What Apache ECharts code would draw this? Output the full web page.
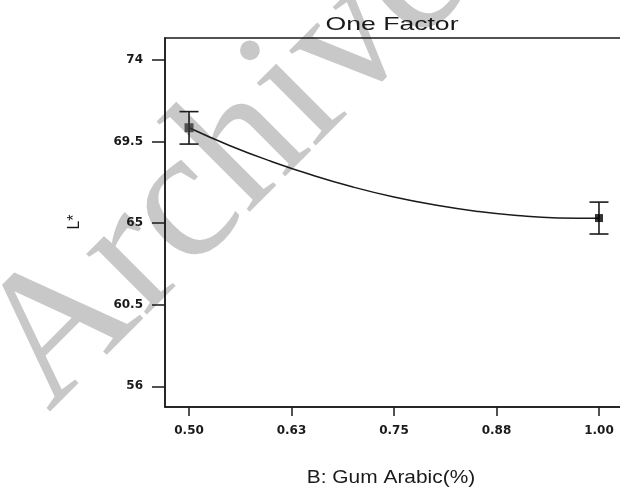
<!DOCTYPE html>
<html>
<head>
<meta charset="utf-8">
<script src="https://cdn.jsdelivr.net/npm/echarts@6/dist/echarts.min.js"></script>
<style>
html,body{margin:0;padding:0;background:#fff;}
#chart{width:620px;height:488px;}
</style>
</head>
<body>
<div id="chart"></div>
<script>
// ---- data ----
const gumArabic = [0.5, 1.0];
const lightness = [70.26, 65.28];
const errLow = [69.36, 64.40];
const errHigh = [71.15, 66.16];
const curveX = [0.50, 0.55, 0.60, 0.65, 0.70, 0.75, 0.80, 0.85, 0.90, 0.95, 1.00];
const curveY = [70.26, 69.27, 68.41, 67.65, 66.99, 66.44, 66.00, 65.66, 65.42, 65.29, 65.27];
const xTickValues = [0.5, 0.625, 0.75, 0.875, 1.0];
const xTickLabels = ['0.50', '0.63', '0.75', '0.88', '1.00'];
const yTickValues = [56, 60.5, 65, 69.5, 74];
const yTickLabels = ['56', '60.5', '65', '69.5', '74'];
const titleText = 'One Factor';
const xName = 'B: Gum Arabic(%)';
const yName = 'L*';
const watermark = 'Archive';

const chart = echarts.init(document.getElementById('chart'), null, {renderer: 'canvas'});
const ink = '#1a1a1a';
const labelFont = {color: ink, fontSize: 12, fontWeight: 'bold', fontFamily: 'DejaVu Sans'};

function lbl(vals, labs) {
  return function (v) {
    for (let i = 0; i < vals.length; i++) if (Math.abs(vals[i] - v) < 1e-6) return labs[i];
    return '';
  };
}

const option = {
  backgroundColor: '#ffffff',
  animation: false,
  grid: {left: 165, top: 38, width: 458, height: 369, show: true, borderColor: ink, borderWidth: 1.5, backgroundColor: 'transparent', outerBoundsMode: 'none', containLabel: false},
  graphic: [
    {type: 'text', z: -10, x: 227, y: 165, rotation: Math.PI / 4, silent: true,
     style: {text: watermark, x: 0, y: 0, textAlign: 'center', textVerticalAlign: 'middle', fill: '#c8c8c8', font: 'normal 187px "Liberation Serif"'}},
    {type: 'text', z: 10, x: 392, y: 25, scaleX: 1.4,
     style: {text: titleText, x: 0, y: 0, textAlign: 'center', textVerticalAlign: 'middle', fill: ink, font: 'normal 19px "Liberation Sans"'}},
    {type: 'text', z: 10, x: 391, y: 478, scaleX: 1.1,
     style: {text: xName, x: 0, y: 0, textAlign: 'center', textVerticalAlign: 'middle', fill: ink, font: 'normal 19px "Liberation Sans"'}},
    {type: 'text', z: 10, x: 75, y: 222, rotation: Math.PI / 2,
     style: {text: yName, x: 0, y: 0, textAlign: 'center', textVerticalAlign: 'middle', fill: ink, font: 'normal 16px "Liberation Sans"'}}
  ],
  xAxis: {
    type: 'value', min: 0.4707, max: 1.0293,
    axisLine: {show: true, lineStyle: {color: ink, width: 1.5}},
    axisTick: {show: true, inside: false, length: 9, customValues: xTickValues, lineStyle: {color: ink, width: 1.5}},
    axisLabel: Object.assign({show: true, margin: 18, customValues: xTickValues, formatter: lbl(xTickValues, xTickLabels)}, labelFont),
    splitLine: {show: false}
  },
  yAxis: {
    type: 'value', min: 54.86, max: 75.21,
    axisLine: {show: true, lineStyle: {color: ink, width: 1.5}},
    axisTick: {show: true, inside: false, length: 13, customValues: yTickValues, lineStyle: {color: ink, width: 1.5}},
    axisLabel: Object.assign({show: true, margin: 22, customValues: yTickValues, formatter: lbl(yTickValues, yTickLabels)}, labelFont),
    splitLine: {show: false}
  },
  series: [
    {
      type: 'line', smooth: true, showSymbol: false, z: 3,
      data: curveX.map((x, i) => [x, curveY[i]]),
      lineStyle: {color: ink, width: 1.5}
    },
    {
      type: 'custom', z: 4,
      data: gumArabic.map((x, i) => [x, errLow[i], errHigh[i]]),
      renderItem: function (params, api) {
        const x = api.value(0);
        const lo = api.coord([x, api.value(1)]);
        const hi = api.coord([x, api.value(2)]);
        const hw = 9.5;
        const st = {stroke: ink, lineWidth: 1.6};
        return {type: 'group', children: [
          {type: 'line', shape: {x1: lo[0], y1: lo[1], x2: hi[0], y2: hi[1]}, style: st},
          {type: 'line', shape: {x1: lo[0] - hw, y1: lo[1], x2: lo[0] + hw, y2: lo[1]}, style: st},
          {type: 'line', shape: {x1: hi[0] - hw, y1: hi[1], x2: hi[0] + hw, y2: hi[1]}, style: st}
        ]};
      }
    },
    {
      type: 'scatter', z: 5, symbol: 'rect',
      data: gumArabic.map((x, i) => ({value: [x, lightness[i]], symbolSize: i === 0 ? 9 : 8, itemStyle: {color: i === 0 ? '#333333' : '#000000'}})),
      itemStyle: {color: '#000'}
    }
  ]
};
chart.setOption(option);
</script>
</body>
</html>
